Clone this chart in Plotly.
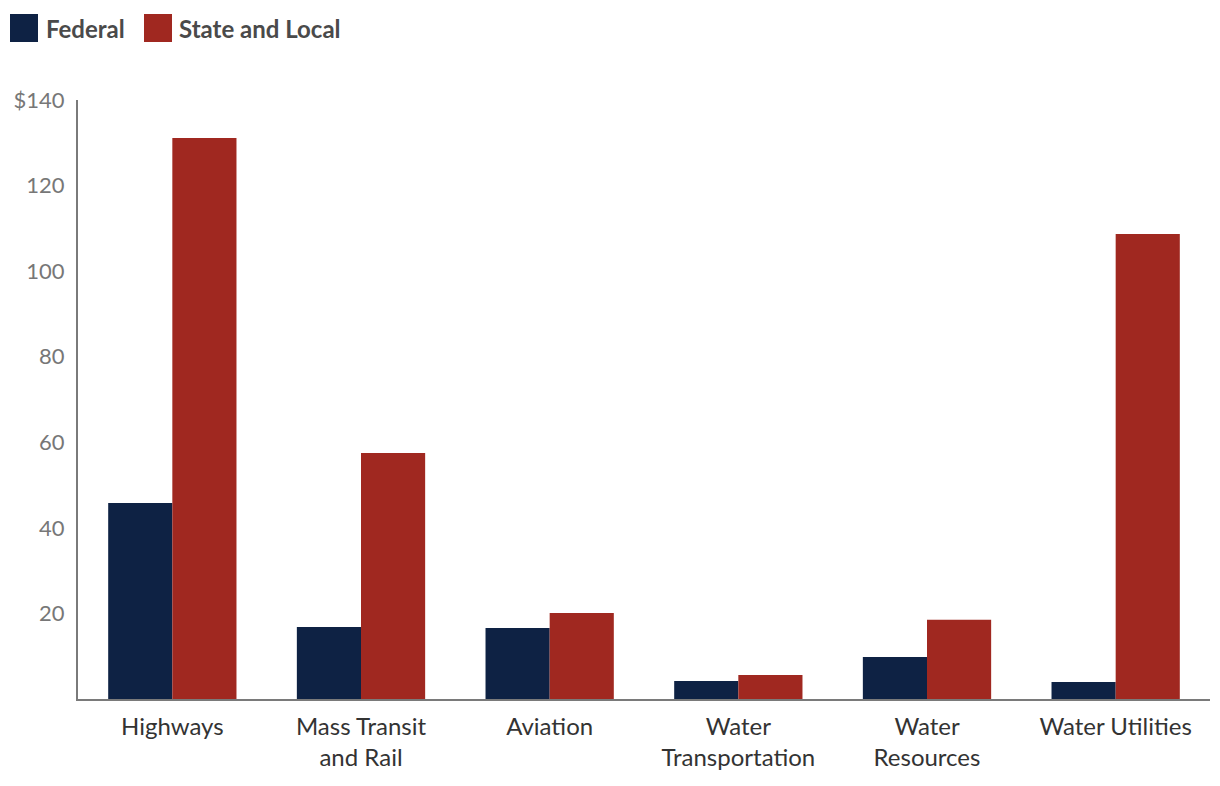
import plotly.graph_objects as go

categories = ["Highways", "Mass Transit<br>and Rail", "Aviation", "Water<br>Transportation", "Water<br>Resources", "Water Utilities"]
federal = [45.8, 16.8, 16.6, 4.2, 9.8, 4.0]
state_local = [131.1, 57.5, 20.1, 5.6, 18.5, 108.7]
ytick_vals = [20, 40, 60, 80, 100, 120, 140]
ytick_text = ["20", "40", "60", "80", "100", "120", "$140"]

NAVY = "#0e2244"
RED = "#a02820"

fig = go.Figure()
fig.add_trace(go.Bar(x=categories, y=federal, name="Federal", marker_color=NAVY, marker_line_width=0))
fig.add_trace(go.Bar(x=categories, y=state_local, name="State and Local", marker_color=RED, marker_line_width=0))

# page has an 8px body margin; figure is sized to fill the rest of the window
OFF = 8
W, H = 1220 - OFF, 786 - OFF
L, R, T, B = 78 - OFF, 10, 100 - OFF, 87
pw, ph = W - L - R, H - T - B

def px(x):
    return (x - OFF - L) / pw

def py(y):
    return (H + OFF - B - y) / ph

shapes = []
annotations = []
for (x0, tx, label, col) in [(10, 44, "Federal", NAVY), (144, 177, "State and Local", RED)]:
    shapes.append(dict(type="rect", xref="paper", yref="paper", x0=px(x0), x1=px(x0 + 28),
                       y0=py(42), y1=py(14), fillcolor=col, line_width=0))
    annotations.append(dict(xref="paper", yref="paper", x=px(tx), y=py(28), text="<b>" + label + "</b>",
                            showarrow=False, xanchor="left", yanchor="middle",
                            font=dict(family="Lato", size=24, color="#4a4a4a")))

fig.update_layout(
    width=W, height=H,
    margin=dict(l=L, r=R, t=T, b=B, autoexpand=False),
    barmode="group", bargap=0.32, bargroupgap=0,
    plot_bgcolor="white", paper_bgcolor="white",
    showlegend=False,
    font=dict(family="Lato"),
    shapes=shapes, annotations=annotations,
    xaxis=dict(showline=True, linecolor="#7a7a7a", linewidth=2, showgrid=False, automargin=False,
               tickfont=dict(family="Lato", size=24, color="#333333"), ticklabelstandoff=5),
    yaxis=dict(range=[0, 140], showline=True, linecolor="#7a7a7a", linewidth=2, showgrid=False,
               zeroline=False, tickvals=ytick_vals, ticktext=ytick_text, automargin=False,
               tickfont=dict(family="Lato", size=22, color="#777777"), ticklabelstandoff=7),
)

fig.write_html("out.html")
